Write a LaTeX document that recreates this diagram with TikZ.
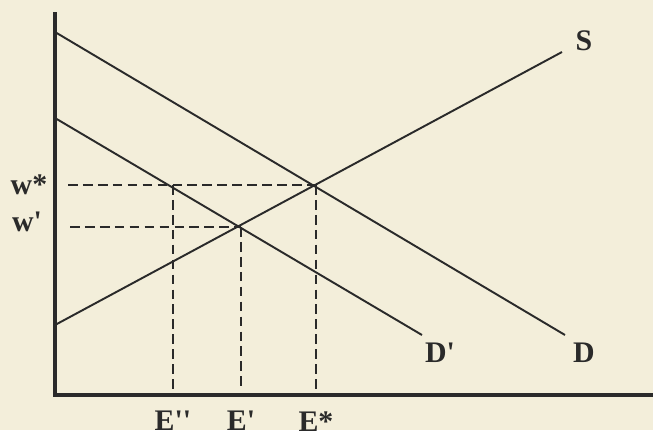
\documentclass[tikz,border=0pt]{standalone}
\usepackage{fontspec}
\setmainfont{Liberation Serif}
\definecolor{paper}{HTML}{F3EEDA}
\definecolor{ink}{HTML}{2A2A2A}
\begin{document}
\begin{tikzpicture}[
    x=0.02cm, y=-0.02cm,
    axis/.style={line width=1.8pt, ink},
    curve/.style={line width=1.1pt, ink},
    guide/.style={line width=0.6pt, ink, dash pattern=on 5.5pt off 3pt},
    lbl/.style={font=\fontsize{17}{17}\selectfont\bfseries, text=ink, inner sep=0pt},
]
  % Paper
  \fill[paper] (0,0) rectangle (653,430);
  \useasboundingbox (0,0) rectangle (653,430);

  % Axes
  \coordinate (origin) at (55,395);
  \coordinate (ytop) at (55,12);
  \coordinate (xend) at (653,395);
  \draw[axis] (ytop) -- (origin) -- (xend);

  % Demand and supply
  \coordinate (d0) at (55,32);   \coordinate (d1) at (565,335);
  \coordinate (dp0) at (55,118); \coordinate (dp1) at (422,335);
  \coordinate (s0) at (55,325);  \coordinate (s1) at (562,52);
  \draw[curve] (d0) -- (d1);
  \draw[curve] (dp0) -- (dp1);
  \draw[curve] (s0) -- (s1);

  % Equilibria
  \coordinate (Estar) at (316,185);
  \coordinate (Eprime) at (241,227);
  \coordinate (Edbl) at (173,185);

  % Dashed guides
  \coordinate (hstar) at (68,185);
  \coordinate (hprime) at (70,227);
  \draw[guide] (hstar) -- (Estar);
  \draw[guide] (hprime) -- (Eprime);
  \foreach \p in {Estar,Eprime,Edbl} {
    \draw[guide] (\p) -- (\p |- 0,389);
  }

  % Labels
  \node[lbl] (wstar) at (29,185) {w*};
  \node[lbl] (wprime) at (27,222) {w\textquotesingle};
  \node[lbl, anchor=north] (lEdbl) at (Edbl |- 0,411) {E\textquotesingle\textquotesingle};
  \node[lbl, anchor=north] (lEprime) at (Eprime |- 0,411) {E\textquotesingle};
  \node[lbl, anchor=north] (lEstar) at (Estar |- 0,411) {E*};
  \node[lbl] (lS) at (584,41) {S};
  \node[lbl] (lDp) at (440,353) {D\textquotesingle};
  \node[lbl] (lD) at (584,353) {D};

\end{tikzpicture}
\end{document}
